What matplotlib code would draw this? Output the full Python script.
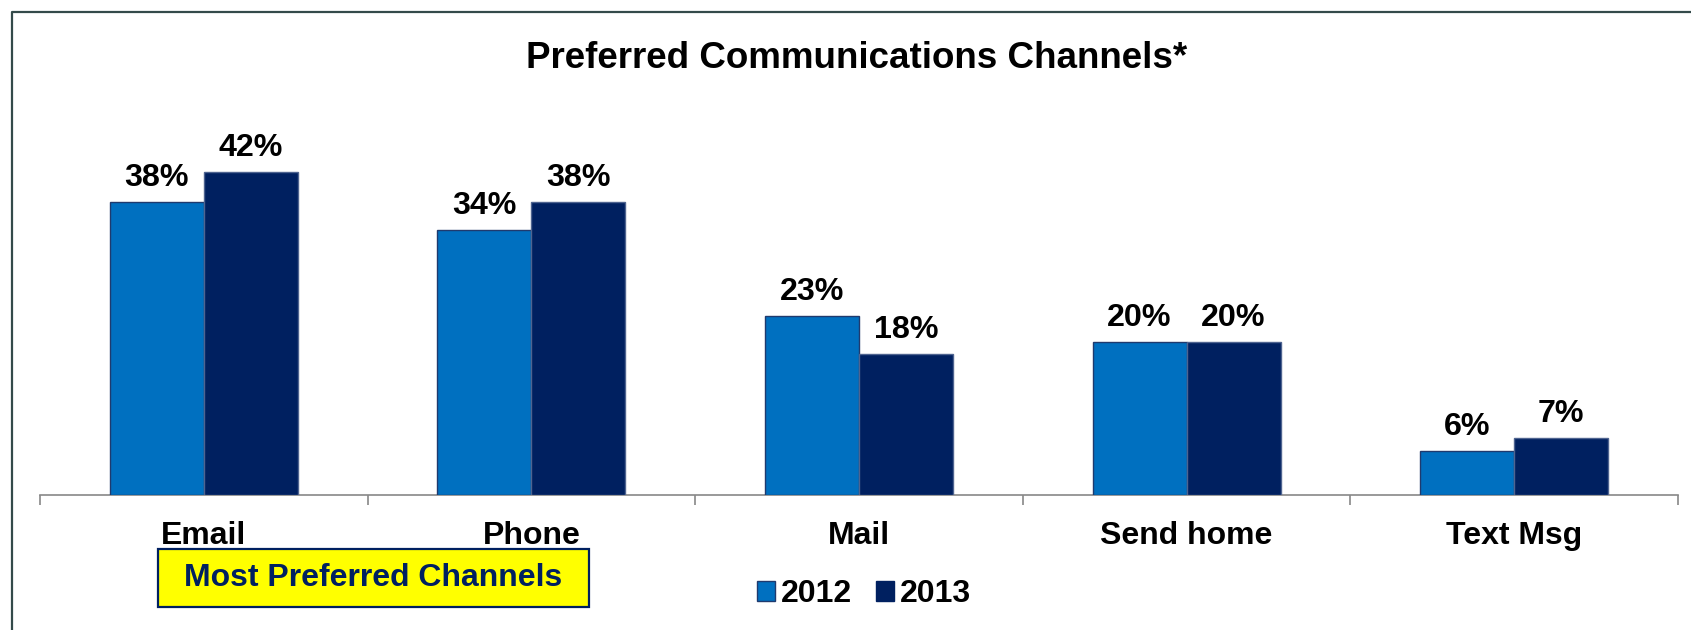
import matplotlib
matplotlib.use("Agg")
import matplotlib.pyplot as plt
from matplotlib.patches import Rectangle, Patch
from matplotlib.lines import Line2D
import numpy as np

categories = ["Email", "Phone", "Mail", "Send home", "Text Msg"]
series_names = ["2012", "2013"]
values_2012 = [38.1, 34.5, 23.3, 19.9, 5.7]
values_2013 = [42.0, 38.2, 18.4, 19.9, 7.4]
title = "Preferred Communications Channels*"
box_text = "Most Preferred Channels"

W, H = 1691, 630
DPI = 100
plt.rcParams['font.family'] = ['Liberation Sans', 'DejaVu Sans']
plt.rcParams['font.weight'] = 'bold'

fig = plt.figure(figsize=(W / DPI, H / DPI), dpi=DPI)
fig.patch.set_facecolor('white')

ax = fig.add_axes([40 / W, 135 / H, (1678 - 40) / W, 384 / H])
ax.set_xlim(-0.5, len(categories) - 0.5)
ax.set_ylim(0, 50)

c2012 = '#0070C0'
c2013 = '#002060'
x = np.arange(len(categories))
w = 0.287
b1 = ax.bar(x - w, values_2012, width=w, align='edge', color=c2012,
            edgecolor='#1F3A6E', linewidth=1.0, zorder=3)
b2 = ax.bar(x, values_2013, width=w, align='edge', color=c2013,
            edgecolor='#4F6490', linewidth=1.0, zorder=3)

for bars, vals in ((b1, values_2012), (b2, values_2013)):
    for rect, v in zip(bars, vals):
        ax.annotate(f"{v:.0f}%", (rect.get_x() + rect.get_width() / 2, rect.get_height()),
                    xytext=(0, 11.5), textcoords='offset points', ha='center', va='baseline',
                    fontsize=23.2, fontweight='bold', color='black')

for s in ['top', 'right', 'left']:
    ax.spines[s].set_visible(False)
ax.spines['bottom'].set_color('#888888')
ax.spines['bottom'].set_linewidth(1.2)
ax.set_yticks([])
ax.set_xticks(x)
ax.set_xticklabels(categories, fontsize=23, fontweight='bold')
ax.tick_params(axis='x', which='major', length=0, pad=19)
ax.set_xticks(np.arange(-0.5, len(categories)), minor=True)
ax.tick_params(axis='x', which='minor', length=7.5, width=1.2, color='#888888', direction='out')

fig.text(857 / W, (H - 67.5) / H, title, ha='center', va='baseline',
         fontsize=26.5, fontweight='bold')

# Yellow box
fig.add_artist(Rectangle((158 / W, (H - 607) / H), (589 - 158) / W, (607 - 549) / H,
                         transform=fig.transFigure, facecolor='#FFFF00', edgecolor='#002060',
                         linewidth=1.6))
fig.text(373.5 / W, (H - 578) / H, box_text, ha='center', va='center',
         fontsize=23, fontweight='bold', color='#002060')

# Legend
handles = [Patch(facecolor=c2012, edgecolor='#1F3A6E', linewidth=1.0),
           Patch(facecolor=c2013, edgecolor='#002060', linewidth=1.0)]
fig.legend(handles, series_names, loc='center', bbox_to_anchor=(864 / W, (H - 594) / H),
           ncol=2, frameon=False, fontsize=23, handlelength=0.57, handleheight=0.57,
           handletextpad=0.2, columnspacing=0.72, borderpad=0, borderaxespad=0)

# Border
fig.add_artist(Line2D([11.5 / W, 11.5 / W, 1.0], [0.0, (H - 12) / H, (H - 12) / H],
                      transform=fig.transFigure, color='#344A4A', linewidth=1.6))

fig.savefig('out.png', dpi=DPI)
